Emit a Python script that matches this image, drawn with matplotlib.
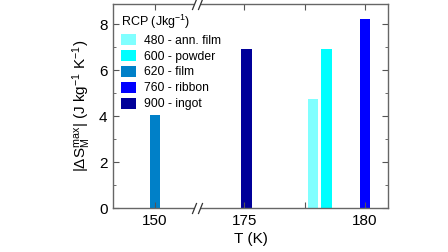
import numpy as np
import matplotlib
matplotlib.use("Agg")
import matplotlib.pyplot as plt
from matplotlib.patches import Patch
from matplotlib.path import Path
from matplotlib.transforms import ScaledTranslation

plt.rcParams['font.family'] = ['Liberation Sans', 'DejaVu Sans']
plt.rcParams['mathtext.fontset'] = 'custom'
plt.rcParams['mathtext.rm'] = 'Liberation Sans'
plt.rcParams['mathtext.it'] = 'Liberation Sans:italic'

# ---- data ----
labels = ['480 - ann. film', '600 - powder', '620 - film', '760 - ribbon', '900 - ingot']
temps = [177.85, 178.4, 150.0, 180.0, 175.1]
values = [4.75, 6.9, 4.05, 8.2, 6.9]
colors = ['#80FFFF', '#00FFFF', '#0080C8', '#0000FF', '#000099']
xtick_vals = [150, 175, 177.5, 180]
xtick_labels = ['150', '175', '', '180']

# broken-axis scale (piecewise linear)
T_knots = np.array([100.0, 151.74, 173.06, 200.0])
U_knots = np.array([-50.0, 1.74, 1.75, 1.75 + 26.94])

def fwd(t):
    return np.interp(t, T_knots, U_knots)

def inv(u):
    return np.interp(u, U_knots, T_knots)

fig = plt.figure(figsize=(4.48, 2.52), dpi=100)
ax = fig.add_axes([113/448, 44/252, 275/448, 204/252])
ax.set_xscale('function', functions=(fwd, inv))

for t, v, c in zip(temps, values, colors):
    ax.bar(t, v, width=0.44, color=c, edgecolor='none')

ax.set_xlim(148.26, 180.95)
ax.set_ylim(0, 8.87)
ax.set_xticks(xtick_vals)
ax.set_xticklabels(xtick_labels)
ax.set_yticks([0, 2, 4, 6, 8])
ax.set_yticks([1, 3, 5, 7], minor=True)
ax.xaxis.set_minor_locator(matplotlib.ticker.NullLocator())
ax.tick_params(which='both', direction='in', top=True, right=True, labelsize=11,
               color='#555555', pad=4)
ax.tick_params(which='major', length=4)
ax.tick_params(which='minor', length=2.5)
for s in ax.spines.values():
    s.set_color('#666666')
    s.set_linewidth(1.0)

ax.set_xlabel('T (K)', fontsize=11, labelpad=3)
ax.set_ylabel(r'|$\Delta\mathrm{S}_\mathrm{M}^\mathrm{max}$| (J kg$^\mathrm{-1}$ K$^\mathrm{-1}$)',
              fontsize=11, labelpad=4)

# break marks
brk = 151.74
ax.plot([brk, brk], [0, 1], ls='none', marker='s', ms=5, mfc='white', mec='none',
        transform=ax.get_xaxis_transform(), clip_on=False, zorder=5)
slash = Path([(-0.4, -1.0), (0.4, 1.0)], [Path.MOVETO, Path.LINETO])
for off in (-3, 3):
    tr = ax.get_xaxis_transform() + ScaledTranslation(off / 100, 0, fig.dpi_scale_trans)
    ax.plot([brk, brk], [0, 1], ls='none', marker=slash, ms=8, mec='#333333', mew=0.9,
            transform=tr, clip_on=False, zorder=6)

handles = [Patch(facecolor=c, edgecolor='none') for c in colors]
leg = ax.legend(handles, labels, title=r'RCP (Jkg$^\mathrm{-1}$)', loc='upper left',
                frameon=False, fontsize=8.7, title_fontsize=9,
                handlelength=1.2, handleheight=1.0, handletextpad=0.7,
                labelspacing=0.28, borderaxespad=0.3, borderpad=0.4)
leg._legend_box.align = 'left'
for h in leg.legend_handles:
    pass

fig.savefig('out.png', dpi=100)
